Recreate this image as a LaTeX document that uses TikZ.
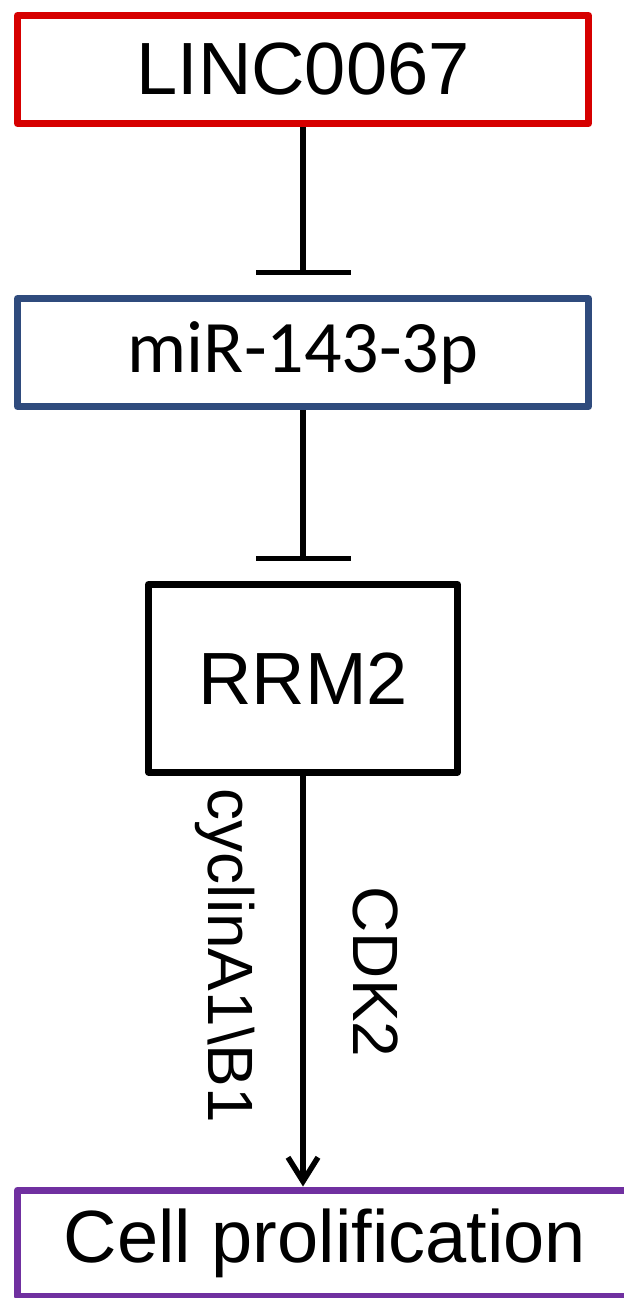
\documentclass[tikz,border=0pt]{standalone}
\usepackage{fontspec}
\setmainfont{Liberation Sans}
\newfontfamily\calibrifont{Carlito}
\usetikzlibrary{arrows.meta}
\definecolor{lincRed}{RGB}{214,0,0}
\definecolor{mirBlue}{RGB}{47,75,125}
\definecolor{cellPurple}{RGB}{112,48,160}

\begin{document}
\begin{tikzpicture}[
        x=0.5pt, y=-0.5pt, font=\fontsize{37}{40}\selectfont,
        box/.style={draw, line width=3.5pt, line join=round, inner sep=0pt},
        link/.style={line width=2.75pt},
        inhibit/.style={link, -{Bar[width=47.5pt]}, shorten >=10pt},
        promote/.style={link, -{Straight Barb[length=12pt, width=15pt]}},
        side/.style={font=\fontsize{32}{34}\selectfont, rotate=-90}]

  \useasboundingbox (0,0) rectangle (624,1298);

  % boxes ---------------------------------------------------
  \node[box, draw=lincRed, minimum width=285.5pt, minimum height=54pt]
        (linc) at (303,69.5) {LINC0067};
  \node[box, draw=mirBlue, minimum width=285.5pt, minimum height=54pt]
        (mir) at (303,352.5) {\calibrifont miR-143-3p};
  \node[box, minimum width=154.5pt, minimum height=93.75pt]
        (rrm) at (303,678.25) {RRM2};
  \node[box, draw=cellPurple, minimum width=307.5pt, minimum height=53pt]
        (cell) at (325,1243) {Cell prolification};

  % connectors ----------------------------------------------
  \draw[inhibit] (linc) -- (mir);
  \draw[inhibit] (mir) -- (rrm);
  \draw[promote] (rrm) -- (rrm |- cell.north);

  % labels on the arrow ------------------------------------
  \node[side] (cyclin) at (225,956) {cyclinA1\textbackslash B1};
  \node[side] (cdk) at (376,972) {CDK2};

\end{tikzpicture}
\end{document}
